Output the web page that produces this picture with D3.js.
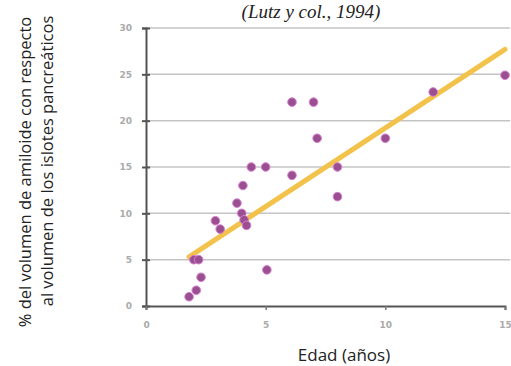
<!DOCTYPE html>
<meta charset="utf-8">
<script src="https://d3js.org/d3.v7.min.js"></script>
<style>
  body { margin: 0; background: #fff; }
</style>
<div id="chart"></div>
<script>

// data
var ages    = [1.8, 2.1, 2.3, 2.0, 2.2, 2.9, 3.1, 3.8, 4.0, 4.1, 4.2, 4.05, 4.4, 5.0, 5.05, 6.1, 6.1, 7.0, 7.15, 8.0, 8.0, 10.0, 12.0, 15.0];
var amyloid = [1.0, 1.7, 3.1, 5.0, 5.0, 9.2, 8.3, 11.1, 10.0, 9.3, 8.7, 13.0, 15.0, 15.0, 3.9, 14.1, 22.0, 22.0, 18.1, 15.0, 11.8, 18.1, 23.1, 24.9];
var trendX  = [1.8, 15];
var trendY  = [5.3, 27.7];
var xTicks  = [0, 5, 10, 15];
var yTicks  = [0, 5, 10, 15, 20, 25, 30];

var width = 511, height = 366;

var svg = d3.select("#chart")
    .append("svg")
    .attr("width", width)
    .attr("height", height);

var x = d3.scaleLinear().domain([0, 15]).range([146, 505]);
var y = d3.scaleLinear().domain([0, 30]).range([306, 28]);

// gridlines
svg.append("g")
    .selectAll("line")
    .data(yTicks.slice(1))
    .enter().append("line")
    .attr("x1", x(0))
    .attr("x2", 510)
    .attr("y1", function(d) { return y(d); })
    .attr("y2", function(d) { return y(d); })
    .attr("stroke", "#c4c4c4")
    .attr("stroke-width", 1.5);

// y axis
var yAxis = svg.append("g")
    .attr("transform", "translate(" + x(0) + ",0)")
    .call(d3.axisLeft(y).tickValues(yTicks).tickSize(4).tickPadding(10));
yAxis.select(".domain").attr("stroke", "#555").attr("stroke-width", 2);
yAxis.selectAll(".tick line").attr("stroke", "#555").attr("stroke-width", 2).attr("x2", 4).attr("x1", -4);
yAxis.selectAll(".tick text").attr("fill", "#aaa").attr("font-size", 9)
    .attr("font-weight", "bold").attr("font-family", "DejaVu Sans");

// x axis
var xAxis = svg.append("g")
    .attr("transform", "translate(0," + y(0) + ")")
    .call(d3.axisBottom(x).tickValues(xTicks).tickSize(4).tickPadding(12));
xAxis.select(".domain").attr("stroke", "#555").attr("stroke-width", 2);
xAxis.selectAll(".tick line").attr("stroke", "#777").attr("stroke-width", 1.5);
xAxis.selectAll(".tick text").attr("fill", "#aaa").attr("font-size", 9)
    .attr("font-weight", "bold").attr("font-family", "DejaVu Sans");

// trend line
svg.append("line")
    .attr("x1", x(trendX[0])).attr("y1", y(trendY[0]))
    .attr("x2", x(trendX[1])).attr("y2", y(trendY[1]))
    .attr("stroke", "#f2c24a")
    .attr("stroke-width", 5)
    .attr("stroke-linecap", "round");

// points
svg.append("g")
    .selectAll("circle")
    .data(ages.map(function(a, i) { return [a, amyloid[i]]; }))
    .enter().append("circle")
    .attr("cx", function(d) { return x(d[0]); })
    .attr("cy", function(d) { return y(d[1]); })
    .attr("r", 4.3)
    .attr("fill", "#9a4f90")
    .attr("stroke", "#d77fd0")
    .attr("stroke-width", 1);

// title
svg.append("text")
    .attr("x", 311)
    .attr("y", 18)
    .attr("text-anchor", "middle")
    .attr("font-family", "Liberation Serif")
    .attr("font-style", "italic")
    .attr("font-size", 19)
    .attr("fill", "#222")
    .text("(Lutz y col., 1994)");

// axis titles
svg.append("text")
    .attr("x", 344)
    .attr("y", 361)
    .attr("text-anchor", "middle")
    .attr("font-family", "Open Sans")
    .attr("font-size", 17)
    .attr("fill", "#222")
    .text("Edad (años)");

svg.append("text")
    .attr("transform", "translate(31,172) rotate(-90)")
    .attr("text-anchor", "middle")
    .attr("font-family", "Open Sans")
    .attr("font-size", 16.5)
    .attr("fill", "#222")
    .text("% del volumen de amiloide con respecto");

svg.append("text")
    .attr("transform", "translate(53,161) rotate(-90)")
    .attr("text-anchor", "middle")
    .attr("font-family", "Open Sans")
    .attr("font-size", 16.5)
    .attr("fill", "#222")
    .text("al volumen de los islotes pancreáticos");
</script>
